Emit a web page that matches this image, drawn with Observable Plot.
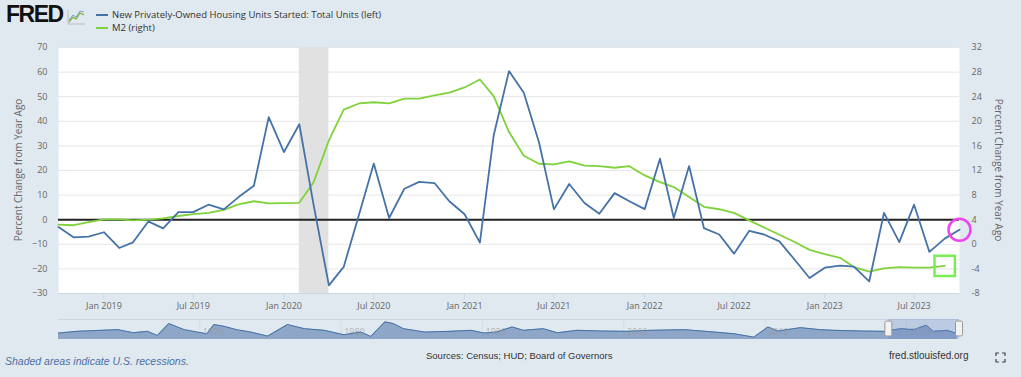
<!DOCTYPE html>
<html>
<head>
<meta charset="utf-8">
<script src="https://cdn.jsdelivr.net/npm/d3@7"></script>
<script src="https://cdn.jsdelivr.net/npm/@observablehq/plot@0.6"></script>
<style>
  body { margin: 0; background: #e1e9f0; }
  #wrap { position: relative; width: 1021px; height: 377px; background: #e1e9f0; overflow: hidden; font-family: "Open Sans", sans-serif; }
  .abs { position: absolute; white-space: nowrap; }
  #logo { left: 6px; top: 3px; font: bold 23px/23px "Liberation Sans", Arial, sans-serif; letter-spacing: -1.5px; color: #111; }
  .leg { font-size: 9.5px; color: #333; line-height: 12px; }
  .ytitle { font-size: 10px; color: #666; line-height: 12px; }
  .foot { font-family: "Liberation Sans Narrow", "Liberation Sans", sans-serif; font-size: 10px; color: #333; line-height: 12px; }
</style>
</head>
<body>
<div id="wrap">
  <div id="logo" class="abs">FRED</div>
  <svg class="abs" style="left:67px;top:9px" width="19" height="16">
    <path d="M1 15 L18 15 M1 1 L1 15" stroke="#bbb" stroke-width="1" fill="none"/>
    <path d="M2 13 L6 8 L9 10 L13 4 L17 6" stroke="#7fb241" stroke-width="1.3" fill="none"/>
    <path d="M2 11 L6 6 L9 8 L13 2 L17 3" stroke="#4572a7" stroke-width="1" fill="none" opacity="0.6"/>
  </svg>
  <svg class="abs" style="left:96px;top:9px" width="14" height="24">
    <line x1="0" x2="12" y1="6" y2="6" stroke="#4572a7" stroke-width="2"/>
    <line x1="0" x2="12" y1="19" y2="19" stroke="#7fd33a" stroke-width="2"/>
  </svg>
  <div class="abs leg" style="left:112px;top:9px">New Privately-Owned Housing Units Started: Total Units (left)</div>
  <div class="abs leg" style="left:112px;top:22px">M2 (right)</div>
  <div id="main" class="abs" style="left:0;top:0"></div>
  <div class="abs ytitle" style="left:18px;top:170px;transform:translate(-50%,-50%) rotate(-90deg)">Percent Change from Year Ago</div>
  <div class="abs ytitle" style="left:999px;top:170px;transform:translate(-50%,-50%) rotate(90deg)">Percent Change from Year Ago</div>
  <div id="nav" class="abs" style="left:0;top:317px"></div>
  <div class="abs foot" style="left:5px;top:355px;font-style:italic;color:#4a6fa5;font-size:10.5px">Shaded areas indicate U.S. recessions.</div>
  <div class="abs foot" style="left:426px;top:350px;font-size:9.5px">Sources: Census; HUD; Board of Governors</div>
  <div class="abs foot" style="left:889px;top:350px">fred.stlouisfed.org</div>
  <svg class="abs" style="left:995px;top:352px" width="11" height="11">
    <path d="M1 4 L1 1 L4 1 M7 1 L10 1 L10 4 M10 7 L10 10 L7 10 M4 10 L1 10 L1 7" stroke="#444" stroke-width="1.2" fill="none"/>
  </svg>
</div>
<script>
// ---- Data ----
// Monthly observations, starting October 2018
const firstMonth = "2018-10-01";
// New Privately-Owned Housing Units Started, % change from year ago (left axis), Oct 2018 – Oct 2023
const housingStarts = [
  -3.0, -7.2, -6.9,
  -5.1, -11.5, -9.2, -0.7, -3.5, 3.1, 3.1, 6.1, 4.2, 9.2, 13.8, 41.7,
  27.5, 38.8, 6.0, -26.7, -19.2, 2.0, 22.8, 0.7, 12.6, 15.4, 14.9, 7.5,
  2.2, -9.3, 34.3, 60.4, 51.6, 31.3, 4.2, 14.5, 6.8, 2.4, 10.8, 7.5,
  4.3, 24.8, 0.7, 21.8, -3.4, -6.0, -13.8, -4.5, -6.1, -8.8, -16.3, -23.7,
  -19.5, -18.7, -19.1, -25.1, 2.8, -9.1, 6.1, -13.1, -7.7, -4.1
];
// M2, % change from year ago (right axis), Oct 2018 – Sep 2023
const m2Growth = [
  3.2, 3.1, 3.6,
  4.05, 4.05, 3.9, 4.0, 4.2, 4.6, 4.9, 5.1, 5.6, 6.5, 7.0, 6.65,
  6.7, 6.75, 10.1, 16.9, 21.9, 22.9, 23.1, 22.9, 23.7, 23.7, 24.2, 24.65,
  25.5, 26.8, 24.1, 18.25, 14.4, 13.1, 13.0, 13.5, 12.8, 12.7, 12.45, 12.7,
  11.2, 10.1, 9.3, 7.7, 6.1, 5.7, 5.1, 3.9, 2.7, 1.56, 0.37, -0.9,
  -1.6, -2.2, -3.7, -4.46, -3.9, -3.7, -3.8, -3.8, -3.5
];
const recessionStart = ["2020-02-01"];
const recessionEnd = ["2020-04-01"];
const leftTicks = [-30, -20, -10, 0, 10, 20, 30, 40, 50, 60, 70];
const rightTicks = [-8, -4, 0, 4, 8, 12, 16, 20, 24, 28, 32];
const xTickDates = ["2019-01-01", "2019-07-01", "2020-01-01", "2020-07-01", "2021-01-01", "2021-07-01", "2022-01-01", "2022-07-01", "2023-01-01", "2023-07-01"];
const xDomain = ["2018-10-01", "2023-10-01"];
// Navigator (full history, rough reading of the mini chart)
const navYears = [1960.0, 1961.3, 1963.0, 1964.2, 1965.3, 1966.3, 1967.0, 1967.8, 1968.9, 1969.8, 1970.5, 1971.0, 1971.7, 1972.6, 1973.6, 1974.8, 1976.2, 1977.4, 1978.8, 1980.2, 1981.4, 1982.1, 1983.1, 1983.7, 1984.4, 1985.9, 1987.7, 1989.2, 1990.1, 1991.0, 1992.1, 1992.9, 1994.3, 1995.3, 1996.7, 1998.4, 2000.2, 2001.9, 2004.3, 2006.4, 2007.8, 2009.2, 2010.2, 2010.9, 2012.5, 2013.9, 2014.9, 2016.8, 2018.4, 2019.6, 2020.5, 2021.4, 2021.9, 2022.9, 2023.6];
const navValues = [5, 17.5, 25, 30, 7.5, 17.5, -12.5, 75, 30, 12.5, 0, 67.5, 55, 30, 12.5, -17.5, 67.5, 37.5, 25, -7.5, 12.5, -20, 87.5, 75, 37.5, 12.5, 17.5, 25, 5, 12.5, 50, 25, 37.5, 7.5, 25, 20, 17.5, 25, 30, 12.5, 0, -25, 50, 20, 45, 30, 25, 20, 17.5, 37.5, 30, 62.5, 17.5, 25, 0];
const navLabels = ["1970", "1980", "1990", "2000", "2010", "2020"];
const navSelection = [2018.75, 2023.75];

// ---- Build tables ----
const parse = d3.utcParse("%Y-%m-%d");
const months = d3.utcMonth.range(parse(firstMonth), d3.utcMonth.offset(parse(firstMonth), housingStarts.length));
const housing = housingStarts.map((v, i) => ({date: months[i], value: v}));
// map right-axis values onto the left-axis scale
const rMin = rightTicks[0], rMax = rightTicks[rightTicks.length - 1];
const lMin = leftTicks[0], lMax = leftTicks[leftTicks.length - 1];
const toLeft = r => lMin + (r - rMin) * (lMax - lMin) / (rMax - rMin);
const toRight = l => rMin + (l - lMin) * (rMax - rMin) / (lMax - lMin);
const m2 = m2Growth.map((v, i) => ({date: months[i], value: v, y: toLeft(v)}));
const recessions = recessionStart.map((s, i) => ({start: parse(s), end: parse(recessionEnd[i])}));

const chart = Plot.plot({
  width: 1021,
  height: 315,
  marginLeft: 58,
  marginRight: 62,
  marginTop: 47,
  marginBottom: 22,
  style: {background: "transparent", fontFamily: "Open Sans", fontSize: "9px", color: "#666", overflow: "visible"},
  x: {type: "utc", domain: xDomain.map(parse)},
  y: {domain: [lMin, lMax]},
  marks: [
    Plot.frame({fill: "white", stroke: "none"}),
    Plot.gridY(leftTicks, {stroke: "#e6e6e6", strokeOpacity: 1, strokeWidth: 1}),
    Plot.rect(recessions, {x1: "start", x2: "end", fill: "#e1e1e1"}),
    Plot.ruleY([lMin], {stroke: "#ccd6eb", strokeWidth: 1}),
    Plot.ruleY([0], {stroke: "#222", strokeWidth: 2}),
    Plot.line(m2, {x: "date", y: "y", stroke: "#7fd33a", strokeWidth: 1.8}),
    Plot.line(housing, {x: "date", y: "value", stroke: "#4572a7", strokeWidth: 1.8}),
    Plot.axisY(leftTicks, {anchor: "left", tickSize: 0, tickPadding: 11, label: null, fill: "#666"}),
    Plot.axisY(rightTicks.map(toLeft), {anchor: "right", tickSize: 0, tickPadding: 12, label: null, fill: "#666",
      tickFormat: d => String(Math.round(toRight(d)))}),
    Plot.axisX(xTickDates.map(parse), {tickFormat: d3.utcFormat("%b %Y"), tickSize: 6, tickPadding: 3, stroke: "#ccd6eb", fill: "#666", label: null}),
    Plot.dot(housing.slice(-1), {x: "date", y: "value", r: 11, stroke: "#ee44ee", strokeWidth: 2.5, fill: "none"}),
    Plot.dot(m2.slice(-1), {x: "date", y: "y", symbol: "square", r: 11.5, stroke: "#77ee55", strokeWidth: 2.5, fill: "none"})
  ]
});
document.getElementById("main").appendChild(chart);

const nav = navYears.map((t, i) => ({t, v: navValues[i]}));
const navChart = Plot.plot({
  width: 1021,
  height: 24,
  marginLeft: 58,
  marginRight: 62,
  marginTop: 2,
  marginBottom: 2,
  style: {background: "transparent", fontFamily: "Open Sans", fontSize: "9px", overflow: "visible"},
  x: {type: "linear", domain: [1960, 2023.75], axis: null},
  y: {type: "linear", domain: [-42.5, 105], axis: null},
  marks: [
    Plot.ruleX(navLabels, {x: d => +d, stroke: "#d5dde6", strokeWidth: 1}),
    Plot.areaY(nav, {x: "t", y1: -42.5, y2: "v", fill: "#8ea6c8", fillOpacity: 1}),
    Plot.line(nav, {x: "t", y: "v", stroke: "#4572a7", strokeWidth: 1}),
    Plot.text(navLabels, {x: d => +d, text: d => d, frameAnchor: "middle", dx: 3, dy: 3, textAnchor: "start", fill: "#999", fillOpacity: 0.7}),
    Plot.ruleY([105], {stroke: "#cdd6e0"}),
    Plot.rect([navSelection], {x1: d => d[0], x2: d => d[1], fill: "#6685c2", fillOpacity: 0.3}),
    Plot.rect(navSelection, {x1: d => d, x2: d => d, y1: 90, y2: -20, insetLeft: -3.5, insetRight: -3.5, fill: "#f2f2f2", stroke: "#999", rx: 1.5})
  ]
});
document.getElementById("nav").appendChild(navChart);
</script>
</body>
</html>
